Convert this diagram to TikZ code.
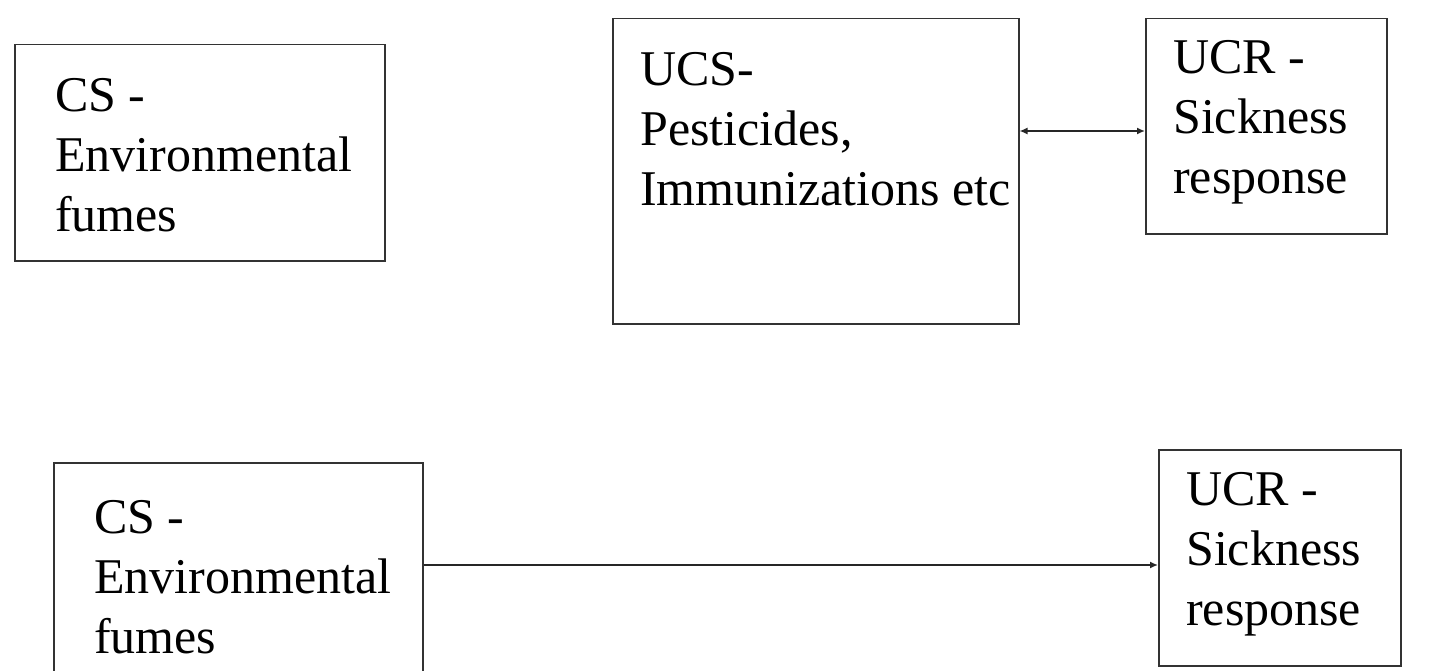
\documentclass[tikz,border=0pt]{standalone}
\usepackage{fontspec}
\setmainfont{Liberation Serif}
\usetikzlibrary{arrows.meta}
\begin{document}
\begin{tikzpicture}%
	[
	x=1pt,
	y=-1pt,
	box/.style={draw=black!80, line width=1.5pt, rectangle, inner sep=0pt, anchor=north west},
	label/.style={inner sep=0pt, anchor=base west, align=left, font=\fontsize{50}{60}\selectfont},
	link/.style={draw=black!85, line width=1.5pt},
	tip/.style={-{Latex[length=8pt,width=7pt]}}]

\useasboundingbox (0,0) rectangle (1440,671);
\clip (0,0) rectangle (1440,671);

\node[box, minimum width=370pt, minimum height=216pt] (cs1) at (14,44) {};
\node[box, minimum width=406pt, minimum height=305pt] (ucs) at (612,18) {};
\node[box, minimum width=241pt, minimum height=215pt] (ucr1) at (1145,18) {};
\node[box, minimum width=369pt, minimum height=228pt] (cs2) at (53,462) {};
\node[box, minimum width=242pt, minimum height=216pt] (ucr2) at (1158,449) {};

% base anchor sits on the last line
\node[label] (cs1text) at (55,232) {CS -\\Environmental\\fumes};
\node[label] (ucstext) at (640,206) {UCS-\\Pesticides,\\Immunizations etc};
\node[label] (ucr1text) at (1173,194) {UCR -\\Sickness\\response};
\node[label] (cs2text) at (94,653) {CS -\\Environmental\\fumes};
\node[label] (ucr2text) at (1186,625) {UCR -\\Sickness\\response};

\coordinate (row1) at (0,131);
\coordinate (row2) at (0,565);

\draw[link, {Latex[length=8pt,width=7pt]}-{Latex[length=8pt,width=7pt]}] (ucs.east |- row1) -- (ucr1.west |- row1);
\draw[link, tip] (cs2.east |- row2) -- (ucr2.west |- row2);
\end{tikzpicture}
\end{document}
